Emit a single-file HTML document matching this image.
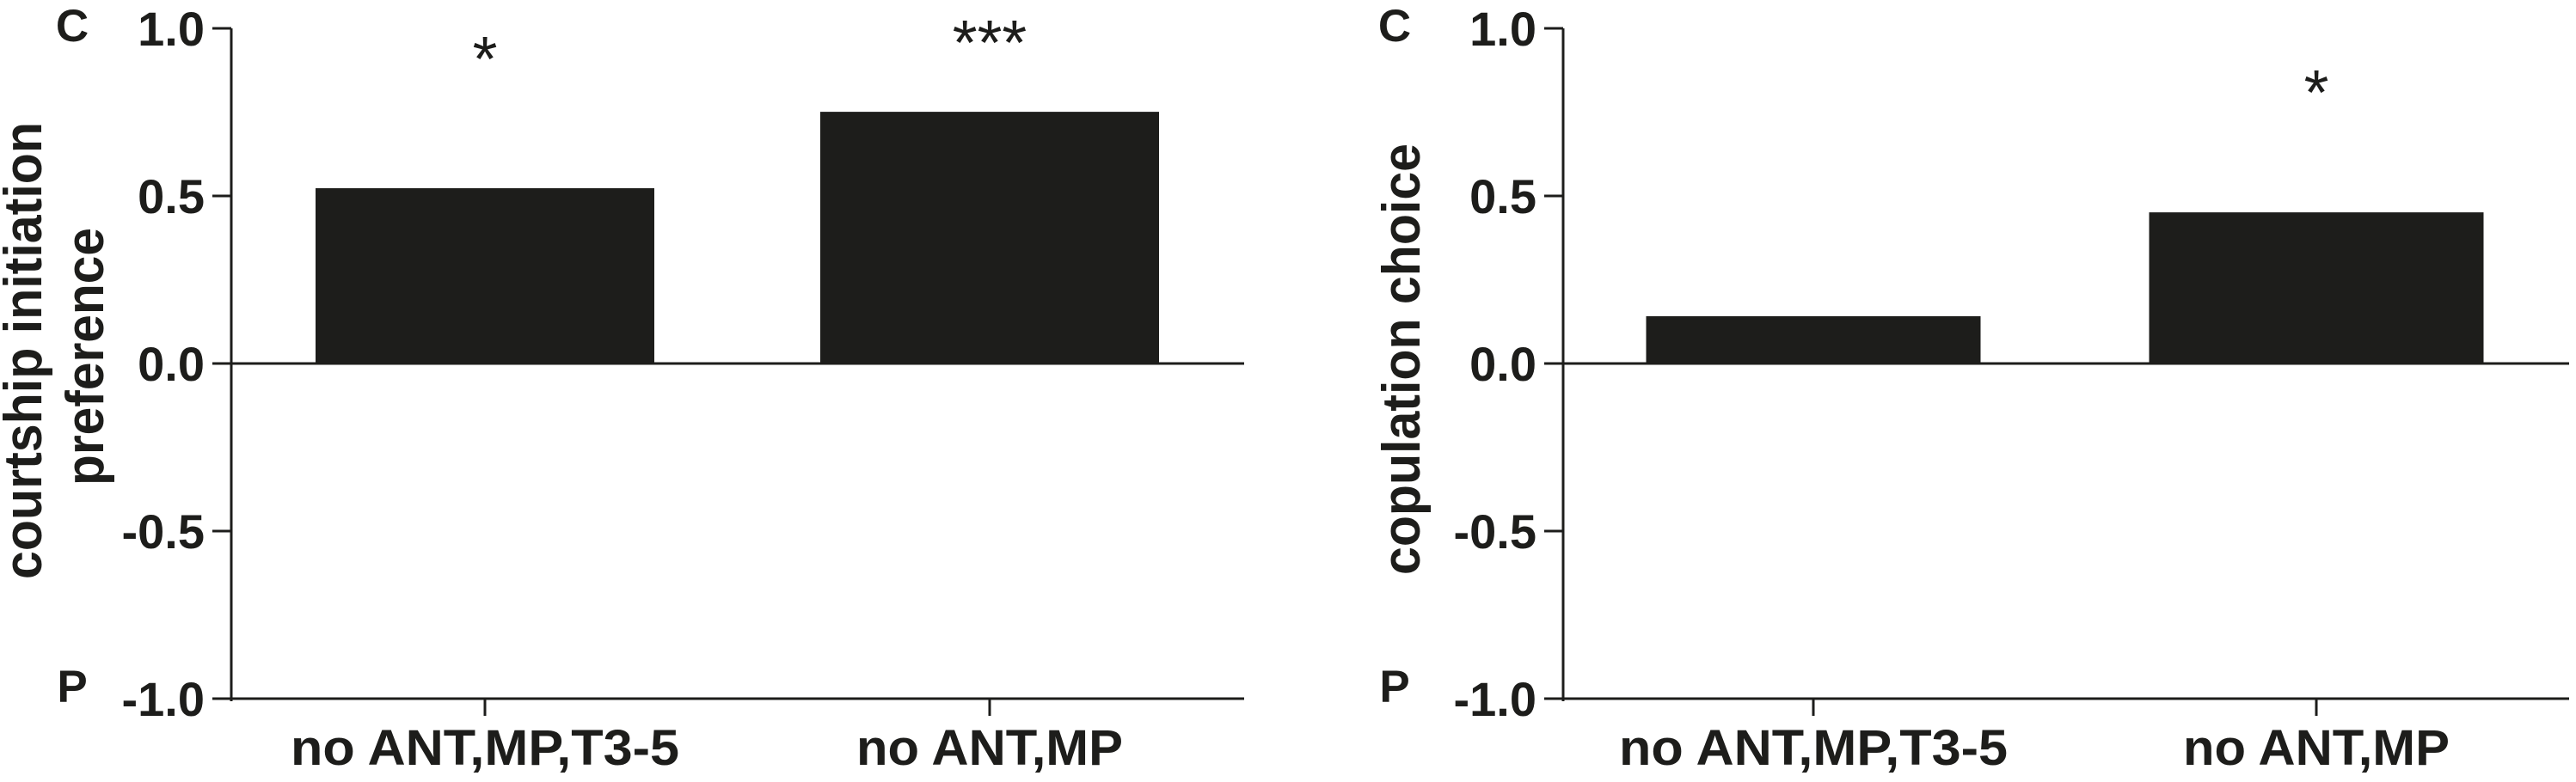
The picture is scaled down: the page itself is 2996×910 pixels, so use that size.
<!DOCTYPE html>
<html><head><meta charset="utf-8"><style>
html,body{margin:0;padding:0;background:#fff;}
svg{display:block;}
text{font-family:"Liberation Sans",sans-serif;font-weight:bold;fill:#1d1d1b;}
</style></head><body>
<svg id="chart" width="2996" height="910" viewBox="0 0 2996 910" xmlns="http://www.w3.org/2000/svg"></svg>
<script>
const categories = ["no ANT,MP,T3-5", "no ANT,MP"];
const courtshipValues = [0.523, 0.751];
const copulationValues = [0.141, 0.451];
const courtshipStars = ["*", "***"];
const copulationStars = ["", "*"];
const yTicks = [1.0, 0.5, 0.0, -0.5, -1.0];
const yTickLabels = ["1.0", "0.5", "0.0", "-0.5", "-1.0"];

const NS = "http://www.w3.org/2000/svg";
const svg = document.getElementById('chart');
function mk(tag, attrs, parent) {
  const e = document.createElementNS(NS, tag);
  for (const k in attrs) e.setAttribute(k, attrs[k]);
  (parent || svg).appendChild(e);
  return e;
}
const y0 = 423, unit = 390;
function yScale(v) { return y0 - v * unit; }

function panel(cfg) {
  const g = mk('g', {});
  
  
  const ax = cfg.axisX;
  const xScale = i => cfg.centers[i];
  cfg.values.forEach((v, i) => {
    const cx = xScale(i);
    const r = mk('rect', {x: cx - cfg.barW / 2, y: Math.min(yScale(v), y0), width: cfg.barW, height: Math.abs(yScale(v) - y0), fill: '#1d1d1b'}, g);
    
    
    if (cfg.stars[i]) {
      const t = mk('text', {x: cx, y: yScale(v) + cfg.starDy[i], 'text-anchor': 'middle', 'font-size': 74}, g);
      t.style.fontWeight = 'normal';
      t.textContent = cfg.stars[i];
      
      
    }
  });
  const yl = mk('line', {x1: ax, y1: yScale(1), x2: ax, y2: yScale(-1) + 3, stroke: '#1d1d1b', 'stroke-width': 3}, g);
  
  
  yTicks.forEach((v, i) => {
    mk('line', {x1: ax - 22, y1: yScale(v), x2: ax, y2: yScale(v), stroke: '#1d1d1b', 'stroke-width': 3}, g);
    const t = mk('text', {x: ax - 31, y: yScale(v) + 20, 'text-anchor': 'end', 'font-size': 56}, g);
    t.textContent = yTickLabels[i];
    
    
  });
  const zl = mk('line', {x1: ax, y1: y0, x2: cfg.axisEnd, y2: y0, stroke: '#1d1d1b', 'stroke-width': 3}, g);
  
  
  const xl = mk('line', {x1: ax, y1: yScale(-1), x2: cfg.axisEnd, y2: yScale(-1), stroke: '#1d1d1b', 'stroke-width': 3}, g);
  
  
  categories.forEach((c, i) => {
    const cx = xScale(i);
    mk('line', {x1: cx, y1: yScale(-1), x2: cx, y2: yScale(-1) + 20, stroke: '#1d1d1b', 'stroke-width': 3}, g);
    const t = mk('text', {x: cx, y: 890, 'text-anchor': 'middle', 'font-size': 58, textLength: i === 0 ? 452 : 310, lengthAdjust: 'spacingAndGlyphs'}, g);
    t.textContent = c;
    
    
  });
  const tc = mk('text', {x: cfg.cpX, y: 48, 'text-anchor': 'middle', 'font-size': 53}, g);
  tc.textContent = 'C';
  
  
  const tp = mk('text', {x: cfg.cpX, y: 817, 'text-anchor': 'middle', 'font-size': 53}, g);
  tp.textContent = 'P';
  
  
  cfg.title.forEach((line, k) => {
    const t = mk('text', {x: 0, y: 0, 'text-anchor': 'middle', 'font-size': 62, transform: `translate(${cfg.titleX[k]},${cfg.titleY[k]}) rotate(-90)`, textLength: cfg.titleLen[k], lengthAdjust: 'spacingAndGlyphs'}, g);
    t.textContent = line;
    
    
  });
}

panel({name: 'courtship-panel', axisX: 269, axisEnd: 1447, centers: [564, 1151], barW: 394,
  values: courtshipValues, stars: courtshipStars, starDy: [-125, -55],
  cpX: 84, title: ['courtship initiation', 'preference'], titleX: [48, 120], titleY: [408, 415], titleLen: [532, 300]});
panel({name: 'copulation-panel', axisX: 1818, axisEnd: 2988, centers: [2109, 2694], barW: 389,
  values: copulationValues, stars: copulationStars, starDy: [0, -114],
  cpX: 1622, title: ['copulation choice'], titleX: [1651], titleY: [418], titleLen: [502]});
</script>
</body></html>
